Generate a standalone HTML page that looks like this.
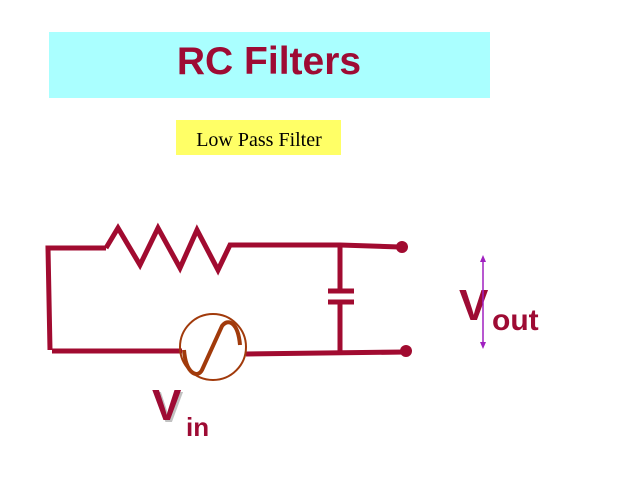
<!DOCTYPE html>
<html><head><meta charset="utf-8"><style>
html,body{margin:0;padding:0;background:#fff;width:640px;height:480px;overflow:hidden}
</style></head><body>
<svg width="640" height="480" viewBox="0 0 640 480" xmlns="http://www.w3.org/2000/svg">
<rect x="49" y="32" width="441" height="66" fill="#aaffff"/>
<text x="269" y="74" text-anchor="middle" font-family="Liberation Sans, sans-serif" font-weight="bold" font-size="39" fill="#9e0b34">RC Filters</text>
<rect x="176" y="120" width="165" height="35" fill="#ffff66"/>
<text x="259" y="146" text-anchor="middle" font-family="Liberation Serif, serif" font-size="20" fill="#000">Low Pass Filter</text>
<g stroke="#a10b30" stroke-width="5" fill="none" stroke-linecap="butt">
<polyline points="50,350 48,248 106,248"/>
<polyline points="106,248 118,228 140,265 158,228 180,268 197,230 218,270 230,245 340,245 400,247"/>
<line x1="340" y1="245" x2="340" y2="291"/>
<line x1="328" y1="291" x2="354" y2="291"/>
<line x1="328" y1="302" x2="354" y2="302"/>
<line x1="340" y1="302" x2="340" y2="353"/>
<line x1="52" y1="351" x2="182" y2="351"/>
<line x1="246" y1="354" x2="406" y2="352"/>
</g>
<circle cx="402" cy="247" r="6" fill="#a10b30"/>
<circle cx="406" cy="351" r="6" fill="#a10b30"/>
<circle cx="213" cy="347" r="33" fill="none" stroke="#a13a0b" stroke-width="2"/>
<path d="M184,350 C186,375 198,378 202,370 L222,326 C228,318 238,322 240,345" fill="none" stroke="#a13a0b" stroke-width="4"/>
<g font-family="Liberation Sans, sans-serif" font-weight="bold" fill="#9e0b34">
<text x="154" y="422" font-size="44" fill="#999" opacity="0.6">V</text>
<text x="152" y="420" font-size="44">V</text>
<text x="186" y="436" font-size="26">in</text>
<text x="459" y="320" font-size="44">V</text>
<text x="492" y="330" font-size="30">out</text>
</g>
<g stroke="#a020c0" stroke-width="1.5" fill="#a020c0">
<line x1="483" y1="258" x2="483" y2="346"/>
<polygon points="483,255 480,262 486,262" stroke="none"/>
<polygon points="483,349 480,342 486,342" stroke="none"/>
</g>
</svg>
</body></html>
